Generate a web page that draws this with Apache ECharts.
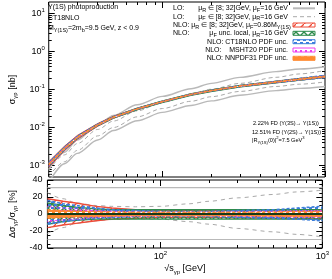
<!DOCTYPE html>
<html><head><meta charset="utf-8">
<script src="https://cdn.jsdelivr.net/npm/echarts@6/dist/echarts.min.js"></script>
<style>html,body{margin:0;padding:0;background:#fff}#c{width:332px;height:279px}</style>
</head><body><div id="c"></div>
<script>
// ---------------- data ----------------
const energies = [20, 25, 30, 40, 50, 70, 100, 150, 200, 300, 500, 700, 1000];
// NLO central cross section [nb]
const nloCentral = [1.07e-3, 2.82e-3, 5.50e-3, 1.17e-2, 1.86e-2, 3.09e-2, 4.79e-2, 7.41e-2, 9.33e-2, 0.123, 0.158, 0.186, 0.219];
// LO curves [nb]
const loMuRHigh = [7.9e-4, 2.24e-3, 4.68e-3, 1.20e-2, 2.09e-2, 3.98e-2, 6.61e-2, 0.105, 0.145, 0.209, 0.295, 0.347, 0.398];
const loMuRLow  = [3.55e-4, 1.12e-3, 2.09e-3, 4.68e-3, 8.32e-3, 1.51e-2, 2.51e-2, 3.80e-2, 5.01e-2, 7.08e-2, 9.33e-2, 0.107, 0.120];
const loMuFHigh = [7.6e-4, 1.91e-3, 3.80e-3, 8.91e-3, 1.48e-2, 2.75e-2, 4.57e-2, 7.59e-2, 0.102, 0.145, 0.209, 0.257, 0.316];
const loMuFLow  = [5.2e-4, 1.26e-3, 2.51e-3, 6.03e-3, 1.0e-2, 1.91e-2, 3.16e-2, 4.90e-2, 6.46e-2, 8.91e-2, 0.120, 0.138, 0.158];
// relative uncertainties [%]
const muRUp   = [18, 15, 13, 9, 7, 5, 4, 4, 4, 4, 4.5, 5, 5];
const muRDn   = [-16, -13, -11, -8, -6, -5, -4, -4, -4, -4.5, -5, -5.5, -6];
const muFUp   = [13, 10, 8, 6, 5, 5, 5, 5, 5, 5, 5, 5, 5];
const muFDn   = [-12, -9, -7.5, -6, -6, -6, -6, -6, -6, -6, -6, -6, -6];
const ct18Up  = [16, 12, 10, 7, 5, 4, 3, 3, 3, 4, 5, 7, 9];
const ct18Dn  = [-12, -9, -7, -5, -4, -3, -3, -3, -3, -4, -5, -6, -8];
const mshtUp  = [9, 7, 6, 4, 3, 2.5, 2, 2, 2, 2.5, 3, 3.5, 4];
const mshtDn  = [-9, -7, -6, -4, -3, -2.5, -2, -2, -2, -2.5, -3, -3.5, -4];
const nnpdfUp = [5, 4, 3.5, 3, 2.5, 2, 2, 2, 2, 2, 2.5, 3, 3];
const nnpdfDn = [-5, -4, -3.5, -3, -2.5, -2, -2, -2, -2, -2, -2.5, -3, -3];
const loMuFRatioUp = [25, 18, 13, 10, 9, 8.5, 9, 12, 15, 19, 23, 26, 28];
const loMuFRatioDn = [-23, -16, -11, -8, -6.5, -5.5, -6, -9, -12, -17, -21, -24, -27];
const loMuRRatioUp = [31, 31, 31, 31, 31, 31, 31, 31, 31, 31, 31, 31, 31];
const loMuRRatioDn = [-30, -30, -30, -30, -30, -30, -30, -30, -30, -30, -30, -30, -30];
const centralRatio = [0, 0, 0, 0, 0, 0, 0, 0, 0, 0, 0, 0, 0];
// ticks
const xMajorTicks = [100, 1000];
const xMinorTicks = [20, 30, 40, 50, 60, 70, 80, 90, 200, 300, 400, 500, 600, 700, 800, 900];
const yTopMajorTicks = [1e-3, 1e-2, 1e-1, 1, 10];
const yTopMinorTicks = [6e-4, 7e-4, 8e-4, 9e-4];
[1e-3, 1e-2, 1e-1, 1].forEach(d => [2,3,4,5,6,7,8,9].forEach(m => yTopMinorTicks.push(+(m*d).toPrecision(3))));
const yBotMajorTicks = [-40, -20, 0, 20, 40];
const yBotMinorTicks = [-35, -30, -25, -15, -10, -5, 5, 10, 15, 25, 30, 35];

// ---------------- styles ----------------
const FONT = '"Liberation Sans", Arial, sans-serif';
const C = {red:'#ee4b37', green:'#2e8b4b', blue:'#3a7ddb', mag:'#ee3cee', orange:'#ff8a30', gray:'#b9b9b9', dgray:'#a9a9a9'};
function pat(size, draw){const c=document.createElement('canvas');c.width=c.height=size;const g=c.getContext('2d');draw(g,size);return {image:c,repeat:'repeat'};}
const P = {
  red: pat(8,(g,s)=>{g.strokeStyle=C.red;g.lineWidth=1.3;g.beginPath();g.moveTo(-1,s+1);g.lineTo(s+1,-1);g.stroke();}),
  green: pat(8,(g,s)=>{g.strokeStyle=C.green;g.lineWidth=1.4;g.beginPath();g.moveTo(0,0);g.lineTo(s,s);g.moveTo(0,s);g.lineTo(s,0);g.stroke();}),
  blue: pat(6,(g,s)=>{g.fillStyle=C.blue;g.fillRect(0,0,3,2);g.fillRect(3,3,3,2);}),
  mag: pat(5,(g,s)=>{g.fillStyle=C.mag;g.fillRect(0,0,2,2);}),
  orange: pat(6,(g,s)=>{g.fillStyle=C.orange;g.fillRect(0,0,s,s);g.fillStyle='#fff';g.fillRect(1,2,3,1);})
};
const supRich = {
  b:{fontSize:9,lineHeight:13,fontFamily:FONT,color:'#000'},
  s:{fontSize:6,lineHeight:7,verticalAlign:'top',fontFamily:FONT,color:'#000'}
};
function powLabel(v){const e=Math.round(Math.log10(v));return '{b|10}{s|'+e+'}';}
const nameRich = {a:{fontSize:9,fontFamily:FONT,color:'#000',lineHeight:12},s:{fontSize:6,fontFamily:FONT,color:'#000',verticalAlign:'bottom',lineHeight:7}};

function mkAxes(dim, grid, type, min, max, major, minor, labelCfg, nameCfg){
  const pos = dim==='x'?['bottom','top']:['left','right'];
  const base = {type, gridIndex:grid, min, max, axisLine:{show:false,onZero:false}, splitLine:{show:false}, minorTick:{show:false}};
  const mk=(p,vals,len,main)=>Object.assign({},base,{position:p,
    axisTick:{show:true,inside:true,length:len,customValues:vals,lineStyle:{color:'#000',width:1}},
    axisLabel: (main&&labelCfg)?Object.assign({show:true,customValues:major},labelCfg):{show:false}
  }, (main&&nameCfg)?nameCfg:{});
  return [mk(pos[0],major,6,true),mk(pos[0],minor,3,false),mk(pos[1],major,6,false),mk(pos[1],minor,3,false)];
}

const xAxes = [].concat(
  mkAxes('x',0,'log',20,1000,xMajorTicks,xMinorTicks,null,null),
  mkAxes('x',1,'log',20,1000,xMajorTicks,xMinorTicks,
    {margin:2,formatter:powLabel,rich:supRich},
    {name:'{a|√s}{s|γp}{a| [GeV]}',nameLocation:'middle',nameGap:15,nameTextStyle:{rich:nameRich}})
);
const yAxes = [].concat(
  mkAxes('y',0,'log',5e-4,20,yTopMajorTicks,yTopMinorTicks,
    {margin:4,formatter:powLabel,rich:supRich},
    {name:'{a|σ}{s|γp}{a| [nb]}',nameLocation:'middle',nameRotate:90,nameGap:22,nameTextStyle:{rich:nameRich}}),
  mkAxes('y',1,'value',-40,40,yBotMajorTicks,yBotMinorTicks,
    {margin:5,fontSize:9,fontFamily:FONT,color:'#000'},
    {name:'{a|Δσ}{s|γp}{a|/σ}{s|γp}{a| [%]}',nameLocation:'middle',nameRotate:90,nameGap:22,nameTextStyle:{rich:nameRich}})
);

function pts(ys){return energies.map((e,i)=>[e,ys[i]]);}
function line(xi,yi,ys,ls,z){return {type:'line',xAxisIndex:xi,yAxisIndex:yi,data:pts(ys),symbol:'none',smooth:0.3,smoothMonotone:'x',lineStyle:ls,z:z||2,silent:true};}
// band drawn as polygon between lower and upper values, through the axes' scales
function band(xi,yi,lo,hi,edge,fill,z){
  return {type:'custom',xAxisIndex:xi,yAxisIndex:yi,clip:true,silent:true,z:z,
    data: energies.map((e,i)=>[e,lo[i],hi[i]]),
    encode:{x:0,y:[1,2]},
    renderItem:function(params,api){
      if(params.dataIndexInside!==0) return null;
      const n=params.dataInsideLength, up=[], dn=[];
      for(let j=0;j<n;j++){
        up.push(api.coord([api.value(0,j),api.value(2,j)]));
        dn.push(api.coord([api.value(0,j),api.value(1,j)]));
      }
      const es={stroke:edge.color,lineWidth:edge.width,lineDash:edge.type||null,fill:null};
      return {type:'group',children:[
        {type:'polygon',shape:{points:up.concat(dn.slice().reverse())},style:{fill:fill}},
        {type:'polyline',shape:{points:up},style:es},
        {type:'polyline',shape:{points:dn},style:es}
      ]};
    }};
}
const bandDefs = [
  {id:'muR', up:muRUp, dn:muRDn},
  {id:'muF', up:muFUp, dn:muFDn},
  {id:'ct18', up:ct18Up, dn:ct18Dn},
  {id:'msht', up:mshtUp, dn:mshtDn},
  {id:'nnpdf', up:nnpdfUp, dn:nnpdfDn}
];
const bandStyle = {
  muR:{edge:{color:C.red,width:1.4},fill:P.red},
  muF:{edge:{color:C.green,width:1.4},fill:P.green},
  ct18:{edge:{color:C.blue,width:1.6,type:[3,2]},fill:P.blue},
  msht:{edge:{color:C.mag,width:1.6,type:[1,2]},fill:P.mag},
  nnpdf:{edge:{color:C.orange,width:1.4,type:[3,2]},fill:P.orange}
};

const series = [];
series.push(line(0,0,loMuRHigh,{color:C.gray,width:1.4}));
series.push(line(0,0,loMuRLow,{color:C.gray,width:1.4}));
series.push(line(0,0,loMuFHigh,{color:C.dgray,width:1,type:[4,3]}));
series.push(line(0,0,loMuFLow,{color:C.dgray,width:1,type:[4,3]}));
series.push(line(4,4,loMuRRatioUp,{color:C.gray,width:1.2}));
series.push(line(4,4,loMuRRatioDn,{color:C.gray,width:1.2}));
series.push(line(4,4,loMuFRatioUp,{color:C.dgray,width:1,type:[4,4]}));
series.push(line(4,4,loMuFRatioDn,{color:C.dgray,width:1,type:[4,4]}));
bandDefs.forEach((b,k)=>{
  const st = bandStyle[b.id];
  const lo = nloCentral.map((v,i)=>v*(1+b.dn[i]/100));
  const hi = nloCentral.map((v,i)=>v*(1+b.up[i]/100));
  series.push(band(0,0,lo,hi,Object.assign({},st.edge,{width:1}),st.fill,3+k));
  series.push(band(4,4,b.dn,b.up,st.edge,st.fill,3+k));
});
series.push(line(4,4,centralRatio,{color:'#173a17',width:2},10));

// ---------------- graphic texts & legend ----------------
const tStyle = (txt,x,y,align,fs)=>{fs=fs||7;return {type:'text',x,y,style:{text:txt,fontSize:fs,fontFamily:FONT,fill:'#000',align:align||'left',verticalAlign:'middle',
  rich:{sub:{fontSize:fs-1.5,verticalAlign:'bottom',lineHeight:fs-1,fontFamily:FONT},sup:{fontSize:fs-1.5,verticalAlign:'top',lineHeight:fs-1,fontFamily:FONT},n:{fontSize:fs,lineHeight:fs+3,fontFamily:FONT}}},z:20,silent:true};};
const rowY = [8.3,16.7,25,33.3,41.7,50,58.3];
const SW0 = 293, SW1 = 315;
const graphic = [
  tStyle('{n|Υ(1S) photoproduction}',48,7.5),
  tStyle('{n|CT18NLO}',48,18),
  tStyle('{n|M}{sub|Υ(1S)}{n|=2m}{sub|b}{n|=9.5 GeV, z < 0.9}',48,28.5),
  tStyle('{n|2.22% FD (Υ(3S)→ Υ(1S))}',253,123.5,'left',5.6),
  tStyle('{n|12.51% FD (Υ(2S)→ Υ(1S))}',252,132,'left',5.6),
  tStyle('{n||R}{sub|Υ(1S)}{n|(0)|}{sup|2}{n|=7.5 GeV}{sup|3}',252,140.5,'left',5.6),
  tStyle('{n|LO:}',173,rowY[0]),
  tStyle('{n|μ}{sub|R}{n| ∈ [8; 32]GeV, μ}{sub|F}{n|=16 GeV}',288,rowY[0],'right'),
  tStyle('{n|LO:}',173,rowY[1]),
  tStyle('{n|μ}{sub|F}{n| ∈ [8; 32]GeV, μ}{sub|R}{n|=16 GeV}',288,rowY[1],'right'),
  tStyle('{n|NLO: μ}{sub|R}{n| ∈ [8; 32]GeV, μ}{sub|F}{n|=0.86M}{sub|Υ(1S)}',173,rowY[2]),
  tStyle('{n|NLO:}',173,rowY[3]),
  tStyle('{n|μ}{sub|F}{n| unc. local, μ}{sub|R}{n|=16 GeV}',288,rowY[3],'right'),
  tStyle('{n|NLO: CT18NLO PDF unc.}',288,rowY[4],'right'),
  tStyle('{n|NLO:    MSHT20 PDF unc.}',288,rowY[5],'right'),
  tStyle('{n|NLO: NNPDF31 PDF unc.}',288,rowY[6],'right'),
  {type:'line',shape:{x1:SW0,y1:rowY[0],x2:SW1,y2:rowY[0]},style:{stroke:C.gray,lineWidth:2},z:20},
  {type:'line',shape:{x1:SW0,y1:rowY[1],x2:SW1,y2:rowY[1]},style:{stroke:C.dgray,lineWidth:1,lineDash:[4,3]},z:20},
];
const swatches = [['red',P.red],['green',P.green],['blue',P.blue],['mag',P.mag],['orange',P.orange]];
swatches.forEach((s,k)=>{
  graphic.push({type:'rect',shape:{x:SW0,y:rowY[k+2]-2,width:SW1-SW0,height:4},style:{fill:s[1],stroke:C[s[0]],lineWidth:1},z:20});
});

const chart = echarts.init(document.getElementById('c'),null,{renderer:'canvas'});
chart.setOption({
  animation:false,
  backgroundColor:'#fff',
  grid:[
    {left:37,top:2,width:288,height:175,show:true,borderColor:'#000',borderWidth:1,backgroundColor:'transparent'},
    {left:37,top:180,width:288,height:68,show:true,borderColor:'#000',borderWidth:1,backgroundColor:'transparent'}
  ],
  xAxis:xAxes,
  yAxis:yAxes,
  series,
  graphic
});
</script></body></html>
